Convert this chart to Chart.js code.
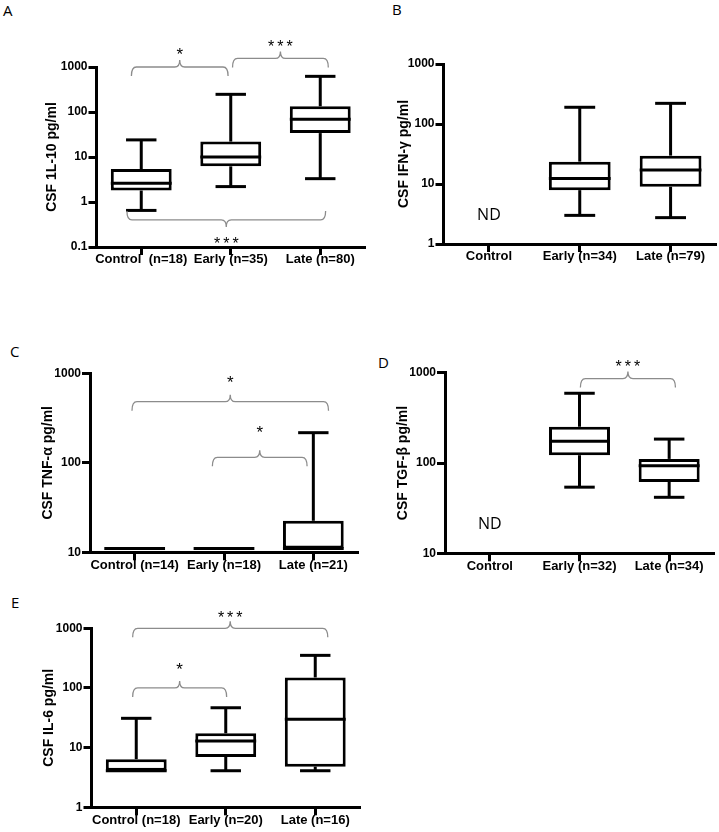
<!DOCTYPE html>
<html>
<head>
<meta charset="utf-8">
<script src="https://cdn.jsdelivr.net/npm/chart.js@4.4.0/dist/chart.umd.min.js"></script>
<style>
  body { margin: 0; background: #fff; width: 719px; height: 832px; position: relative; overflow: hidden; }
  canvas { position: absolute; }
  .tag { position: absolute; font: 15px "Open Sans"; line-height: 15px; color: #000; }
</style>
</head>
<body>
<div class="tag" style="left:3px;top:3px">A</div>
<div class="tag" style="left:392px;top:2px">B</div>
<div class="tag" style="left:10px;top:344px">C</div>
<div class="tag" style="left:378px;top:355px">D</div>
<div class="tag" style="left:11px;top:595px">E</div>

<canvas id="chartA" width="368" height="285" style="left:0;top:0"></canvas>
<canvas id="chartB" width="349" height="285" style="left:370px;top:0"></canvas>
<canvas id="chartC" width="368" height="252" style="left:0;top:330px"></canvas>
<canvas id="chartD" width="349" height="252" style="left:370px;top:330px"></canvas>
<canvas id="chartE" width="368" height="242" style="left:0;top:590px"></canvas>

<script>
// --- A: IL-10 ---
const catsA = ['Control  (n=18)', 'Early (n=35)', 'Late (n=80)'];
const minA = [0.65, 2.2, 3.3];
const q1A = [1.8, 6.2, 34];
const medA = [2.6, 10, 69];
const q3A = [5.4, 22, 134];
const maxA = [24, 247, 620];
const ndA = [null, null, null];
const ticksA = [0.1, 1, 10, 100, 1000];
const bracketsA = [
  { from: -0.11, to: 0.97, level: 1000, starAt: 2400, text: '*' },
  { from: 1.02, to: 2.09, level: 1550, starAt: 3370, text: '***' },
  { from: -0.16, to: 2.06, level: 0.4, starAt: 0.148, text: '***', below: true }
];

// --- B: IFN-gamma ---
const catsB = ['Control', 'Early (n=34)', 'Late (n=79)'];
const minB = [null, 3.0, 2.75];
const q1B = [null, 7.9, 9.0];
const medB = [null, 12.4, 17.1];
const q3B = [null, 23.6, 29.7];
const maxB = [null, 190, 221];
const ndB = [3, null, null];
const ticksB = [1, 10, 100, 1000];
const bracketsB = [];

// --- C: TNF-alpha ---
const catsC = ['Control (n=14)', 'Early (n=18)', 'Late (n=21)'];
const minC = [11, 11, 11];
const q1C = [11, 11, 11];
const medC = [11, 11, 11];
const q3C = [11, 11, 22.5];
const maxC = [11, 11, 217];
const ndC = [null, null, null];
const ticksC = [10, 100, 1000];
const bracketsC = [
  { from: -0.03, to: 2.17, level: 482, starAt: 885, text: '*' },
  { from: 0.87, to: 1.93, level: 115, starAt: 245, text: '*' }
];

// --- D: TGF-beta ---
const catsD = ['Control', 'Early (n=32)', 'Late (n=34)'];
const minD = [null, 54, 41.7];
const q1D = [null, 122, 61.6];
const medD = [null, 174, 93];
const q3D = [null, 252, 111];
const maxD = [null, 592, 184];
const ndD = [21, null, null];
const ticksD = [10, 100, 1000];
const bracketsD = [
  { from: 1.01, to: 2.07, level: 860, starAt: 1290, text: '***' }
];

// --- E: IL-6 ---
const catsE = ['Control (n=18)', 'Early (n=20)', 'Late (n=16)'];
const minE = [4.1, 4.1, 4.1];
const q1E = [4.1, 7.0, 4.8];
const medE = [4.1, 12.9, 29.8];
const q3E = [6.4, 17.4, 150];
const maxE = [31, 46.6, 352];
const ndE = [null, null, null];
const ticksE = [1, 10, 100, 1000];
const bracketsE = [
  { from: -0.04, to: 2.14, level: 1000, starAt: 1780, text: '***' },
  { from: -0.04, to: 1.01, level: 100, starAt: 241, text: '*' }
];

const labelFont = { family: 'Liberation Sans', size: 13, weight: 'bold' };
const tickFont = { family: 'Liberation Sans', size: 12, weight: 'bold' };

// whiskers, medians, ND labels and significance brackets
function boxPlugin(p) {
  return {
    id: 'boxes',
    afterDatasetsDraw(chart) {
      const { ctx, scales: { x, y } } = chart;
      const bars = chart.getDatasetMeta(0).data;
      const line = (x1, y1, x2, y2) => {
        ctx.beginPath(); ctx.moveTo(x1, y1); ctx.lineTo(x2, y2); ctx.stroke();
      };
      ctx.save();
      ctx.strokeStyle = '#000';
      ctx.lineWidth = 3;
      p.med.forEach((m, i) => {
        if (m == null) return;
        const cx = x.getPixelForValue(i);
        const w = bars[i].width;
        const ym = y.getPixelForValue(m);
        line(cx - w / 2, ym, cx + w / 2, ym);
        [[p.q3[i], p.max[i]], [p.q1[i], p.min[i]]].forEach(([a, b]) => {
          if (a === b) return;
          const y1 = y.getPixelForValue(a), y2 = y.getPixelForValue(b);
          line(cx, y1, cx, y2);
          line(cx - w / 4, y2, cx + w / 4, y2);
        });
      });
      ctx.fillStyle = '#000';
      ctx.font = '16px "Open Sans"';
      ctx.textAlign = 'center';
      ctx.textBaseline = 'middle';
      p.nd.forEach((v, i) => {
        if (v != null) ctx.fillText('ND', x.getPixelForValue(i), y.getPixelForValue(v));
      });
      ctx.restore();
    },
    afterDraw(chart) {
      const { ctx, scales: { x, y } } = chart;
      ctx.save();
      ctx.strokeStyle = '#8c8c8c';
      ctx.lineWidth = 1.3;
      p.brackets.forEach(b => {
        const x1 = x.getPixelForValue(b.from), x2 = x.getPixelForValue(b.to);
        const yl = y.getPixelForValue(b.level);
        const d = b.below ? -1 : 1;
        const end = 9 * d, tick = 7 * d, r = 5;
        const xm = (x1 + x2) / 2;
        ctx.beginPath();
        ctx.moveTo(x1, yl + end);
        ctx.quadraticCurveTo(x1, yl, x1 + r, yl);
        ctx.lineTo(xm - r, yl);
        ctx.quadraticCurveTo(xm, yl, xm, yl - tick);
        ctx.quadraticCurveTo(xm, yl, xm + r, yl);
        ctx.lineTo(x2 - r, yl);
        ctx.quadraticCurveTo(x2, yl, x2, yl + end);
        ctx.stroke();

        const size = b.text.length > 1 ? 16 : 17;
        ctx.font = size + 'px "Liberation Sans"';
        ctx.fillStyle = '#000';
        ctx.textAlign = 'center';
        ctx.textBaseline = 'alphabetic';
        ctx.letterSpacing = b.text.length > 1 ? '3px' : '0px';
        ctx.fillText(b.text, xm + (b.text.length > 1 ? 1.5 : 0), y.getPixelForValue(b.starAt) + 0.575 * size);
      });
      ctx.restore();
    }
  };
}

function boxChart(id, p) {
  new Chart(document.getElementById(id), {
    type: 'bar',
    data: {
      labels: p.cats,
      datasets: [{
        data: p.q1.map((v, i) => v == null ? null : [v, p.q3[i]]),
        backgroundColor: '#fff',
        borderColor: '#000',
        borderWidth: 3,
        borderSkipped: false,
        barPercentage: 0.68,
        categoryPercentage: 1
      }]
    },
    options: {
      responsive: false,
      animation: false,
      layout: { padding: p.pad },
      plugins: { legend: { display: false }, tooltip: { enabled: false } },
      scales: {
        x: {
          type: 'category',
          offset: true,
          grid: { offset: false, drawOnChartArea: false, tickLength: 8, tickWidth: 3, tickColor: '#000' },
          border: { color: '#000', width: 3 },
          ticks: { color: '#000', font: labelFont, maxRotation: 0, autoSkip: false, padding: -3 },
          afterFit: s => { s.height = p.xh; }
        },
        y: {
          type: 'logarithmic',
          min: p.ticks[0],
          max: p.ticks[p.ticks.length - 1],
          afterBuildTicks: s => { s.ticks = p.ticks.map(v => ({ value: v })); },
          grid: { drawOnChartArea: false, tickLength: 8, tickWidth: 3, tickColor: '#000' },
          border: { color: '#000', width: 3 },
          ticks: { color: '#000', font: tickFont, padding: 1, callback: v => String(v) },
          title: {
            display: true,
            text: p.title,
            color: '#000',
            font: { family: 'Liberation Sans', size: 14, weight: 'bold' },
            padding: { top: p.titlePad, bottom: 0 }
          },
          afterFit: s => { s.width = p.yw; }
        }
      }
    },
    plugins: [boxPlugin(p)]
  });
}

boxChart('chartA', {
  cats: catsA, min: minA, q1: q1A, med: medA, q3: q3A, max: maxA, nd: ndA, ticks: ticksA, brackets: bracketsA,
  title: 'CSF 1L-10 pg/ml', pad: { top: 67, right: 3, bottom: 8, left: 0 }, yw: 96.5, xh: 30, titlePad: 43.3
});
boxChart('chartB', {
  cats: catsB, min: minB, q1: q1B, med: medB, q3: q3B, max: maxB, nd: ndB, ticks: ticksB, brackets: bracketsB,
  title: 'CSF IFN-γ pg/ml', pad: { top: 64, right: 3, bottom: 11, left: 0 }, yw: 73.5, xh: 30, titlePad: 25.6
});
boxChart('chartC', {
  cats: catsC, min: minC, q1: q1C, med: medC, q3: q3C, max: maxC, nd: ndC, ticks: ticksC, brackets: bracketsC,
  title: 'CSF TNF-α pg/ml', pad: { top: 43.3, right: 10, bottom: 0, left: 0 }, yw: 90, xh: 29.7, titlePad: 39.6
});
boxChart('chartD', {
  cats: catsD, min: minD, q1: q1D, med: medD, q3: q3D, max: maxD, nd: ndD, ticks: ticksD, brackets: bracketsD,
  title: 'CSF TGF-β pg/ml', pad: { top: 42.7, right: 5, bottom: 0, left: 0 }, yw: 75, xh: 28.7, titlePad: 24.9
});
boxChart('chartE', {
  cats: catsE, min: minE, q1: q1E, med: medE, q3: q3E, max: maxE, nd: ndE, ticks: ticksE, brackets: bracketsE,
  title: 'CSF IL-6 pg/ml', pad: { top: 38.3, right: 8, bottom: 0, left: 0 }, yw: 91.5, xh: 24.7, titlePad: 40.6
});
</script>
</body>
</html>
